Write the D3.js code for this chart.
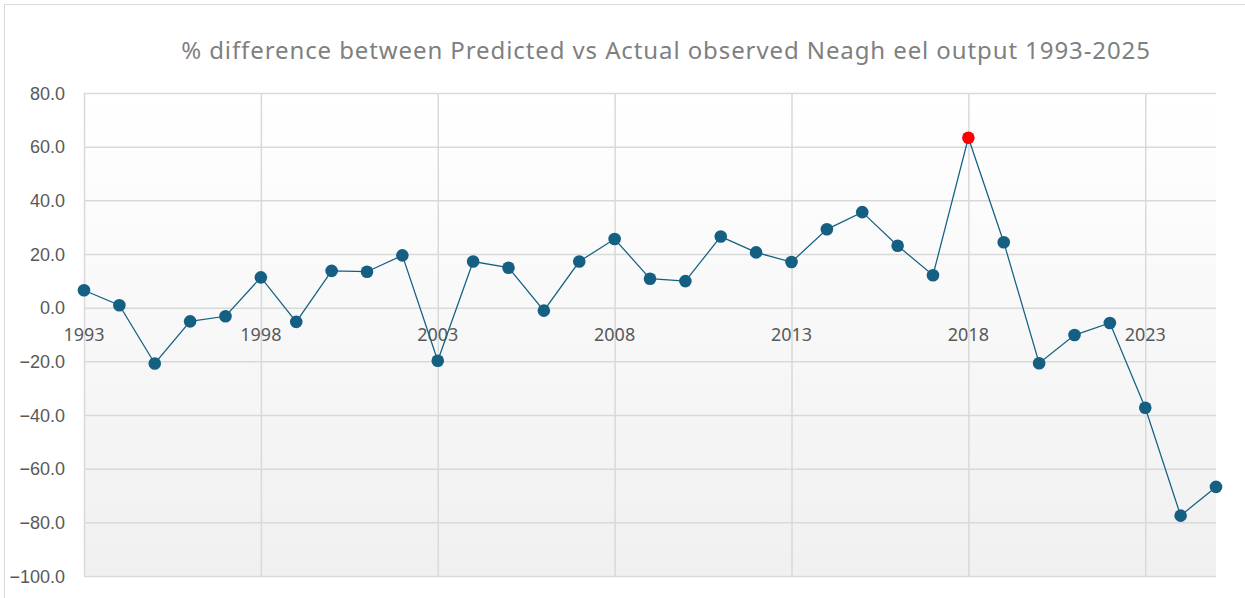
<!DOCTYPE html>
<html>
<head>
<meta charset="utf-8">
<script src="https://cdn.jsdelivr.net/npm/d3@7"></script>
<style>
  body { margin: 0; background: #fff; }
  svg { display: block; font-family: "Noto Sans", "Open Sans", sans-serif; }
</style>
</head>
<body>
<div id="chart"></div>
<script>
// chart data
var years = d3.range(1993, 2026);
var pctDiff = [6.5, 0.9, -20.8, -5.1, -3.2, 11.3, -5.3, 13.7, 13.4, 19.5,
               -19.8, 17.2, 14.9, -1.1, 17.2, 25.6, 10.8, 9.9, 26.5, 20.6,
               17.0, 29.2, 35.6, 23.1, 12.1, 63.3, 24.4, -20.7, -10.2, -5.7,
               -37.3, -77.5, -66.8];
var highlightYear = 2018;
var yTicks = [80, 60, 40, 20, 0, -20, -40, -60, -80, -100];
var xTicks = [1993, 1998, 2003, 2008, 2013, 2018, 2023];
var title = "% difference between Predicted vs Actual observed Neagh eel output 1993-2025";

var W = 1245, H = 598;
var margin = { top: 93, right: 29, bottom: 22, left: 84 };

var data = years.map((y, i) => ({ year: y, value: pctDiff[i] }));

var svg = d3.select("#chart").append("svg")
    .attr("width", W)
    .attr("height", H);

// outer chart border
svg.append("rect")
    .attr("x", 4.5).attr("y", 4.5)
    .attr("width", W + 10).attr("height", H + 10)
    .attr("fill", "#fff")
    .attr("stroke", "#d9d9d9");

var x = d3.scaleLinear()
    .domain([1993, 2025])
    .range([margin.left, W - margin.right]);

var y = d3.scaleLinear()
    .domain([-100, 80])
    .range([H - margin.bottom, margin.top]);

// plot area gradient
var defs = svg.append("defs");
var grad = defs.append("linearGradient")
    .attr("id", "plotbg")
    .attr("x1", 0).attr("y1", 0).attr("x2", 0).attr("y2", 1);
grad.append("stop").attr("offset", "0%").attr("stop-color", "#ffffff");
grad.append("stop").attr("offset", "100%").attr("stop-color", "#f0f0f0");

svg.append("rect")
    .attr("x", x(1993)).attr("y", y(80))
    .attr("width", x(2025) - x(1993))
    .attr("height", y(-100) - y(80))
    .attr("fill", "url(#plotbg)");

// title
svg.append("text")
    .attr("x", 666)
    .attr("y", 59)
    .attr("text-anchor", "middle")
    .attr("fill", "#7f7f7f")
    .style("font-size", "24px")
    .style("letter-spacing", "0.9px")
    .text(title);

// horizontal gridlines + y labels
var yAxis = d3.axisLeft(y)
    .tickValues(yTicks)
    .tickSize(-(x(2025) - x(1993)))
    .tickPadding(19)
    .tickFormat(d3.format(".1f"));

var gy = svg.append("g")
    .attr("transform", `translate(${x(1993)},0)`)
    .call(yAxis);
gy.select(".domain").remove();
gy.selectAll(".tick line").attr("stroke", "#d9d9d9").attr("stroke-width", 1.5);
gy.selectAll(".tick text")
    .attr("fill", "#595959")
    .style("font-size", "18px")
    .attr("dy", "0.35em");

// vertical gridlines
var xAxis = d3.axisBottom(x)
    .tickValues(xTicks)
    .tickSize(-(y(-100) - y(80)))
    .tickFormat("");

var gx = svg.append("g")
    .attr("transform", `translate(0,${y(-100)})`)
    .call(xAxis);
gx.select(".domain").remove();
gx.selectAll(".tick line").attr("stroke", "#d9d9d9").attr("stroke-width", 1.5);

// x labels sit just under the zero line
svg.append("g")
    .selectAll("text")
    .data(xTicks)
    .enter().append("text")
    .attr("x", d => x(d))
    .attr("y", y(0) + 33)
    .attr("text-anchor", "middle")
    .attr("fill", "#595959")
    .style("font-size", "18px")
    .text(d => d);

// line
var line = d3.line()
    .x(d => x(d.year))
    .y(d => y(d.value));

svg.append("path")
    .datum(data)
    .attr("d", line)
    .attr("fill", "none")
    .attr("stroke", "#156082")
    .attr("stroke-width", 1.25);

// markers
svg.append("g")
    .selectAll("circle")
    .data(data)
    .enter().append("circle")
    .attr("cx", d => x(d.year))
    .attr("cy", d => y(d.value))
    .attr("r", 6.3)
    .attr("fill", d => d.year === highlightYear ? "#ff0000" : "#156082");
</script>
</body>
</html>
